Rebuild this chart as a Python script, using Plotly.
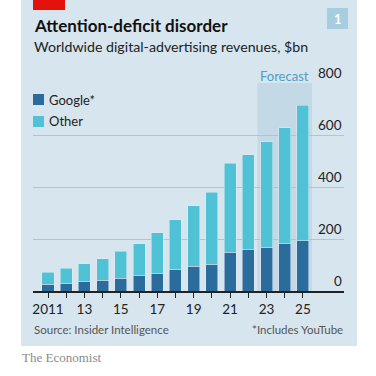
import plotly.graph_objects as go

years = list(range(2011, 2026))
google = [26, 30, 35, 42, 49, 58, 68, 84, 95, 103, 149, 159, 169, 182, 194]
other = [46, 57, 69, 82, 104, 124, 156, 190, 233, 277, 342, 365, 405, 445, 520]
series_names = ["Google*", "Other"]
y_ticks = [0, 200, 400, 600, 800]
x_tick_labels = ["2011" if y == 2011 else (str(y)[2:] if y % 2 == 1 else "") for y in years]
forecast_years = [2023, 2025]

W, H = 376, 376
L, R, T, B = 33, 32, 83, 85
PW, PH = W - L - R, H - T - B

def px_x(p):
    return (p - L) / PW

def px_y(p):
    return (H - B - p) / PH

C_GOOGLE = "#2a6d9d"
C_OTHER = "#50c2d5"
C_BG = "#d7e5ee"
C_SHADE = "#c4d9e6"
C_TEXT = "#222222"
FONT = "Lato"

fig = go.Figure()
fig.add_trace(go.Bar(x=years, y=google, name=series_names[0], marker_color=C_GOOGLE))
fig.add_trace(go.Bar(x=years, y=other, name=series_names[1], marker_color=C_OTHER))

shapes = [
    dict(type="rect", xref="paper", yref="paper", x0=px_x(21), x1=px_x(357), y0=px_y(346), y1=px_y(-2),
         fillcolor=C_BG, line_width=0, layer="below"),
    dict(type="rect", xref="paper", yref="paper", x0=px_x(33), x1=px_x(65), y0=px_y(10), y1=px_y(-2),
         fillcolor="#e3120b", line_width=0, layer="below"),
    dict(type="rect", xref="paper", yref="paper", x0=px_x(327), x1=px_x(348), y0=px_y(29), y1=px_y(8),
         fillcolor="#a7cde1", line_width=0, layer="below"),
    dict(type="rect", xref="x", yref="y", x0=forecast_years[0] - 0.5, x1=forecast_years[1] + 0.5,
         y0=0, y1=y_ticks[-1], fillcolor=C_SHADE, line_width=0, layer="below"),
    dict(type="rect", xref="paper", yref="paper", x0=px_x(33), x1=px_x(44), y0=px_y(105), y1=px_y(94),
         fillcolor=C_GOOGLE, line_width=0),
    dict(type="rect", xref="paper", yref="paper", x0=px_x(33), x1=px_x(44), y0=px_y(127), y1=px_y(116),
         fillcolor=C_OTHER, line_width=0),
]

ann = [
    dict(text="<b>Attention-deficit disorder</b>", x=px_x(32), y=px_y(25), xanchor="left", yanchor="middle",
         font=dict(size=17, color="#111111", family=FONT)),
    dict(text="Worldwide digital-advertising revenues, $bn", x=px_x(32), y=px_y(47), xanchor="left", yanchor="middle",
         font=dict(size=14.2, color=C_TEXT, family=FONT)),
    dict(text="<b>1</b>", x=px_x(337.5), y=px_y(19), xanchor="center", yanchor="middle",
         font=dict(size=13, color="white", family=FONT)),
    dict(text="Forecast", x=(forecast_years[0] + forecast_years[1]) / 2, xref="x", y=px_y(76), xanchor="center",
         yanchor="middle", font=dict(size=13, color="#4f9fc6", family=FONT)),
    dict(text=series_names[0], x=px_x(47), y=px_y(100), xanchor="left", yanchor="middle",
         font=dict(size=13, color=C_TEXT, family=FONT)),
    dict(text=series_names[1], x=px_x(47), y=px_y(121), xanchor="left", yanchor="middle",
         font=dict(size=13, color=C_TEXT, family=FONT)),
    dict(text="Source: Insider Intelligence", x=px_x(32), y=px_y(329), xanchor="left", yanchor="middle",
         font=dict(size=11.5, color="#555555", family=FONT)),
    dict(text="*Includes YouTube", x=px_x(345), y=px_y(329), xanchor="right", yanchor="middle",
         font=dict(size=11.5, color="#555555", family=FONT)),
    dict(text="The Economist", x=px_x(20), y=px_y(357), xanchor="left", yanchor="middle",
         font=dict(size=13, color="#8a8a8a", family="Liberation Serif")),
]
for v in y_ticks:
    ann.append(dict(text=str(v), x=1, xref="paper", y=v, yref="y", xanchor="right", yanchor="bottom",
                    yshift=0, font=dict(size=13.5, color=C_TEXT, family=FONT)))
for a in ann:
    a.setdefault("xref", "paper")
    a.setdefault("yref", "paper")
    a["showarrow"] = False

x0 = years[0] - (48 - L) / 18.21
fig.update_layout(
    width=W, height=H, margin=dict(l=L, r=R, t=T, b=B),
    paper_bgcolor="white", plot_bgcolor="rgba(0,0,0,0)",
    barmode="stack", bargap=0.34, showlegend=False,
    shapes=shapes, annotations=ann,
    font=dict(family=FONT, color=C_TEXT),
    xaxis=dict(range=[x0, x0 + PW / 18.21], tickvals=years, ticktext=x_tick_labels,
               ticks="outside", ticklen=5, tickwidth=1, tickcolor=C_TEXT,
               showline=True, linecolor=C_TEXT, linewidth=1.5, showgrid=False, zeroline=False,
               tickfont=dict(size=13.5, color=C_TEXT, family=FONT)),
    yaxis=dict(range=[0, y_ticks[-1]], tickvals=y_ticks, showticklabels=False, showgrid=True,
               gridcolor="#b6c3cc", gridwidth=1, zeroline=False, ticks=""),
)
fig.write_html("out.html", config={"displayModeBar": False},
               post_script="document.body.style.margin='0px';document.body.style.padding='0px';")
